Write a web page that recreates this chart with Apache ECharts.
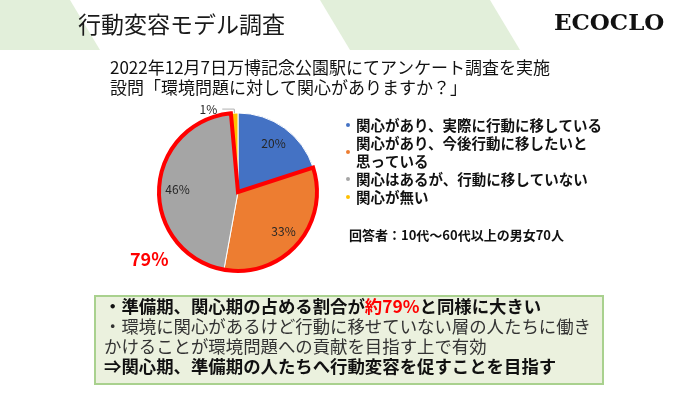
<!DOCTYPE html>
<html><head><meta charset="utf-8">
<script src="https://cdn.jsdelivr.net/npm/echarts@6/dist/echarts.min.js"></script>
<style>html,body{margin:0;padding:0;background:#fff}#c{width:700px;height:394px}</style>
</head><body><div id="c"></div>
<script>
// ---- data ----
const categories = ['関心があり、実際に行動に移している', '関心があり、今後行動に移したいと思っている', '関心はあるが、行動に移していない', '関心が無い'];
const legendLabels = ['関心があり、実際に行動に移している', '関心があり、今後行動に移したいと\n思っている', '関心はあるが、行動に移していない', '関心が無い'];
const counts = [14, 23, 32, 1];          // respondents (70 total)
const highlighted = [1, 2];               // slices outlined in red (79%)
const highlightLabel = '79%';
const colors = ['#4472c4', '#ed7d31', '#a5a5a5', '#ffc000'];

const FONT = "'Noto Sans CJK JP', 'Noto Sans', sans-serif";
const total = counts.reduce((a, b) => a + b, 0);
const hlSum = highlighted.reduce((s, i) => s + counts[i], 0);

const chart = echarts.init(document.getElementById('c'), null, { renderer: 'canvas' });
const center = [238, 192];
const R = 79;

const mainData = categories.map((n, i) => ({ name: n, value: counts[i], itemStyle: { color: colors[i] } }));
const labelData = categories.map((n, i) => {
  const small = counts[i] / total < 0.05;
  return {
    name: n, value: counts[i],
    label: small ? { position: 'outside' } : { position: 'inside' },
    labelLine: { show: small }
  };
});
const outlineData = [
  { name: '_o0', value: counts[0], itemStyle: { color: 'rgba(0,0,0,0)', borderWidth: 0 } },
  { name: '_o1', value: hlSum, itemStyle: { color: 'rgba(0,0,0,0)', borderColor: '#ff0000', borderWidth: 4, borderJoin: 'miter' } },
  { name: '_o2', value: counts[3], itemStyle: { color: 'rgba(0,0,0,0)', borderWidth: 0 } }
];

const option = {
  backgroundColor: '#ffffff',
  animation: false,
  legend: {
    data: categories,
    orient: 'vertical',
    left: 339, top: 111,
    icon: 'circle', itemWidth: 6, itemHeight: 6, itemGap: 0,
    selectedMode: false,
    formatter: name => legendLabels[categories.indexOf(name)],
    textStyle: { fontFamily: FONT, fontSize: 14.5, fontWeight: 'bold', color: '#111', lineHeight: 18 }
  },
  series: [
    {
      type: 'pie', center: center, radius: [0, R], startAngle: 90, clockwise: true,
      silent: true, data: mainData,
      itemStyle: { borderColor: '#ffffff', borderWidth: 1 },
      label: { show: false }, labelLine: { show: false }, z: 1
    },
    {
      type: 'pie', center: center, radius: [36, R], startAngle: 90, clockwise: true,
      silent: true, data: labelData, avoidLabelOverlap: false, percentPrecision: 0,
      itemStyle: { color: 'rgba(0,0,0,0)', borderWidth: 0 },
      label: { show: true, formatter: '{d}%', fontFamily: FONT, fontSize: 12, color: '#262626' },
      labelLine: { length: 4, length2: 12, lineStyle: { color: '#b0b0b0', width: 1 } },
      z: 3
    },
    {
      type: 'pie', center: center, radius: [0, R], startAngle: 90, clockwise: true,
      silent: true, data: outlineData,
      label: { show: false }, labelLine: { show: false }, z: 2
    }
  ],
  graphic: [
    { type: 'polygon', shape: { points: [[0, 0], [70, 0], [100, 50], [0, 50]] }, style: { fill: '#e2efda' }, silent: true },
    { type: 'polygon', shape: { points: [[320, 0], [490, 0], [520, 50], [350, 50]] }, style: { fill: '#e2efda' }, silent: true },
    { type: 'text', left: 78, top: 13, style: { text: '行動変容モデル調査', font: '23px ' + FONT, fill: '#1a1a1a' } },
    { type: 'text', left: 554, top: 13, style: { text: 'ECOCLO', font: 'bold 23px "DejaVu Serif", serif', fill: '#111' } },
    { type: 'text', left: 110, top: 58, style: { text: '2022年12月7日万博記念公園駅にてアンケート調査を実施\n設問「環境問題に対して関心がありますか？」', font: '17px ' + FONT, lineHeight: 20, fill: '#111' } },
    { type: 'text', left: 130, top: 250, style: { text: highlightLabel, font: 'bold 18px ' + FONT, fill: '#ff0000' } },
    { type: 'text', left: 349, top: 229, style: { text: '回答者：10代〜60代以上の男女' + total + '人', font: 'bold 13px ' + FONT, fill: '#111' } },
    { type: 'rect', shape: { x: 95, y: 296, width: 508, height: 88 }, style: { fill: '#ebf1de', stroke: '#a9d18e', lineWidth: 2 }, silent: true },
    { type: 'text', left: 104, top: 298, style: {
        text: '{b|・準備期、関心期の占める割合が}{r|約' + highlightLabel + '}{b|と同様に大きい}\n{n|・環境に関心があるけど行動に移せていない層の人たちに働き}\n{n|かけることが環境問題への貢献を目指す上で有効}\n{b|⇒関心期、準備期の人たちへ行動変容を促すことを目指す}',
        rich: {
          b: { fontFamily: FONT, fontSize: 17.4, fontWeight: 'bold', fill: '#111', lineHeight: 20 },
          r: { fontFamily: FONT, fontSize: 17.4, fontWeight: 'bold', fill: '#ff0000', lineHeight: 20 },
          n: { fontFamily: FONT, fontSize: 17.4, fill: '#333', lineHeight: 20 }
        }
      } }
  ]
};
chart.setOption(option);
</script>
</body></html>
